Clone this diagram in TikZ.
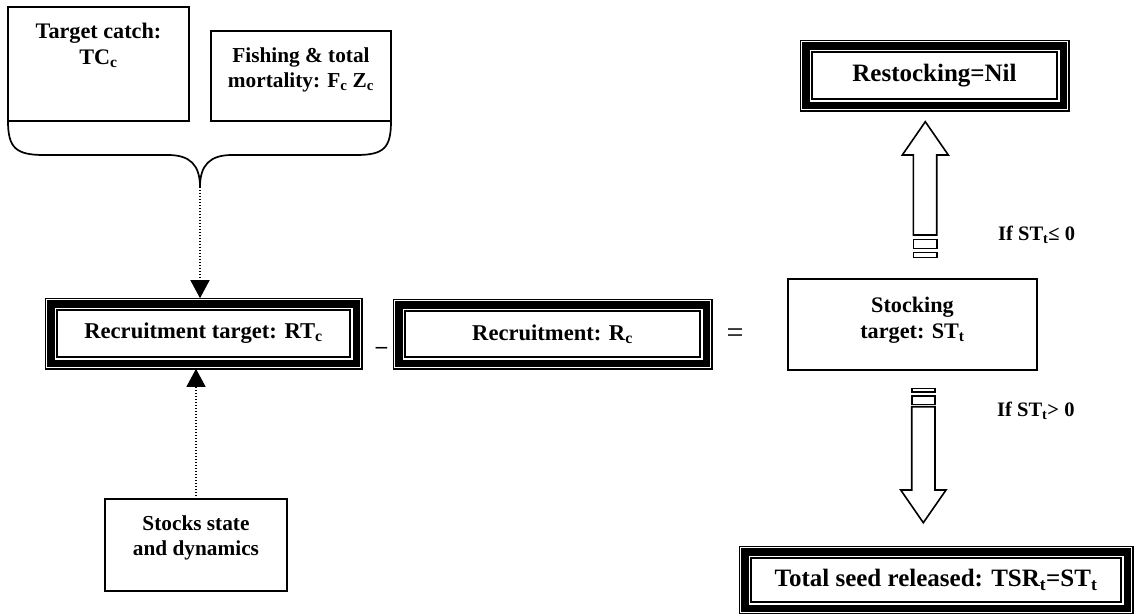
\documentclass[tikz,border=0pt]{standalone}
\usepackage{fontspec}
\setmainfont{Liberation Serif}
\usetikzlibrary{arrows.meta,fit}

% thick band plus thin outer rule around a framed node
\newcommand\tripleframe[1]{%
  \draw[line width=7.5pt] ([xshift=-6.25pt,yshift=6.25pt]#1.north west) rectangle ([xshift=6.25pt,yshift=-6.25pt]#1.south east);
  \node[fit=(#1), inner sep=11.8pt, draw, line width=1.4pt, outer sep=0pt] (#1frame) {};
}

\tikzset{
  plainbox/.style={draw, line width=1.6pt, inner sep=0pt, outer sep=0pt},
  innerbox/.style={draw, line width=1.8pt, inner sep=0pt, outer sep=0pt},
  txtbig/.style={inner sep=0pt, align=center, font=\bfseries\fontsize{22.2}{26}\selectfont},
  txtsmall/.style={inner sep=0pt, align=center, font=\bfseries\fontsize{21.3}{25}\selectfont},
  frametxt/.style={font=\bfseries\fontsize{22.6}{26}\selectfont},
  framebig/.style={font=\bfseries\fontsize{25}{29}\selectfont},
  condtxt/.style={inner sep=0pt, font=\bfseries\fontsize{20.5}{24}\selectfont},
  braceline/.style={line width=1.7pt},
  blockline/.style={line width=1.6pt, line join=miter},
  dotarrow/.style={line width=1.3pt, dash pattern=on 1.2pt off 1.8pt, -{Triangle[length=18pt,width=19pt]}},
}

\begin{document}
\begin{tikzpicture}[x=1pt,y=-1pt]
\useasboundingbox (0,0) rectangle (1134,613);

% inputs at the top
\node[plainbox, minimum width=181pt, minimum height=114pt] (tc) at (98.5,64) {};
\node[txtbig, anchor=north] (tctext) at (98.5,22.8) {Target catch:\\TC\textsubscript{c}};
\node[plainbox, minimum width=180pt, minimum height=90pt] (fm) at (301,76) {};
\node[txtsmall, anchor=north] (fmtext) at (301,47.5) {Fishing \& total\\mortality: F\textsubscript{c} Z\textsubscript{c}};

% brace joining the two inputs
\coordinate (bt) at (200,187);
\draw[braceline] (tc.south west) .. controls (8,148) and (16,155) .. (44,155) -- (168,155)
  .. controls (190,155) and (200,165) .. (bt)
  .. controls (200,165) and (210,155) .. (232,155) -- (356,155)
  .. controls (384,155) and (391,148) .. (fm.south east);

% equation row
\node[innerbox, frametxt, minimum width=293pt, minimum height=47pt] (rt) at (203.5,333.5) {Recruitment target: RT\textsubscript{c}};
\tripleframe{rt}
\node[innerbox, frametxt, minimum width=295pt, minimum height=46pt] (rc) at (552.5,334) {Recruitment: R\textsubscript{c}};
\tripleframe{rc}
\node[inner sep=0pt, font=\bfseries\fontsize{22.6}{26}\selectfont] (minus) at (381.5,350) {–};
\node[inner sep=0pt, font=\fontsize{30}{34}\selectfont] (eq) at (735,336) {=};
\node[plainbox, minimum width=249pt, minimum height=91pt] (st) at (912.5,324.5) {};
\node[txtbig, anchor=north] (sttext) at (912.5,296.8) {Stocking\\target: ST\textsubscript{t}};

% stock state input below
\node[plainbox, minimum width=182pt, minimum height=92pt] (sd) at (196,545) {};
\node[txtsmall, anchor=north] (sdtext) at (196,515.5) {Stocks state\\and dynamics};

\draw[dotarrow] (bt) -- (bt |- rtframe.north);
\draw[dotarrow] (sd.north) -- (sd.north |- rtframe.south);

% outcomes
\node[innerbox, framebig, minimum width=245pt, minimum height=47pt] (nil) at (934.5,75.5) {Restocking=Nil};
\tripleframe{nil}
\node[innerbox, framebig, minimum width=370pt, minimum height=44pt] (tsr) at (936,580) {Total seed released: TSR\textsubscript{t}=ST\textsubscript{t}};
\tripleframe{tsr}

% hollow block arrow upwards
\draw[blockline] (913.3,235) -- (913.3,155) -- (902.3,155) -- (925.3,121.7) -- (948.3,155) -- (936.7,155) -- (936.7,235) -- cycle;
\draw[blockline] (913.3,239.3) rectangle (936.7,248.3);
\draw[blockline] (913.3,252.3) rectangle (936.7,257.3);
\node[condtxt, anchor=base west] (condle) at (998,240) {If ST\textsubscript{t}≤ 0};

% hollow block arrow downwards
\draw[blockline] (911.7,388.3) rectangle (935,391.7);
\draw[blockline] (911.7,396) rectangle (935,404.3);
\draw[blockline] (911.7,406.7) -- (911.7,490) -- (900.7,490) -- (923.3,522.7) -- (946,490) -- (935,490) -- (935,406.7) -- cycle;
\node[condtxt, anchor=base west] (condgt) at (997,416.5) {If ST\textsubscript{t}> 0};
\end{tikzpicture}
\end{document}
